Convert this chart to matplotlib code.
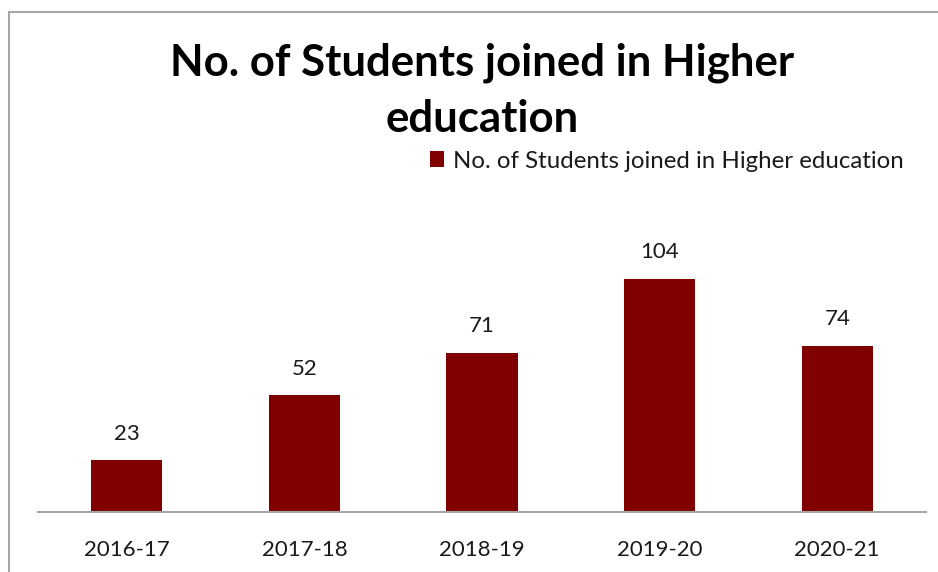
import matplotlib
matplotlib.use("Agg")
import matplotlib.pyplot as plt
from matplotlib.patches import Rectangle

categories = ["2016-17", "2017-18", "2018-19", "2019-20", "2020-21"]
values = [23, 52, 71, 104, 74]
series_name = "No. of Students joined in Higher education"
title = "No. of Students joined in Higher\neducation"

plt.rcParams['font.family'] = ['Lato', 'DejaVu Sans']

W, H = 938, 572
fig = plt.figure(figsize=(W / 100, H / 100), dpi=100)

# outer chart border
fig.patches.append(Rectangle((9 / W, -0.1), 1.2, 1.1 - 12 / H, transform=fig.transFigure,
                             fill=False, edgecolor="#a6a6a6", linewidth=1.5))

ax = fig.add_axes([38 / W, 60 / H, 888 / W, 314 / H])
x = range(len(categories))
bars = ax.bar(x, values, width=0.4, color="#800000", label=series_name)
ax.set_xlim(-0.5, len(categories) - 0.5)
ax.set_ylim(0, 140)
for s in ["top", "right", "left"]:
    ax.spines[s].set_visible(False)
ax.spines["bottom"].set_color("#a6a6a6")
ax.spines["bottom"].set_linewidth(1.5)
ax.set_yticks([])
ax.set_xticks(list(x))
ax.set_xticklabels(categories, fontsize=16, color="#1a1a1a")
ax.tick_params(axis="x", length=0, pad=20)

for xi, v in zip(x, values):
    ax.annotate(str(v), (xi, v), xytext=(0, 12), textcoords="offset points",
                ha="center", va="bottom", fontsize=16, color="#1a1a1a")

fig.text(482 / W, 1 - 91 / H, title, ha="center", va="center", fontsize=31.5,
         fontweight="bold", color="black", linespacing=1.5)

leg = fig.legend(handles=[bars], labels=[series_name], loc="center left",
                 bbox_to_anchor=(430 / W, 1 - 161 / H), frameon=False, fontsize=17.3,
                 handlelength=0.6, handleheight=0.6, handletextpad=0.35, borderpad=0,
                 borderaxespad=0)
for t in leg.get_texts():
    t.set_color("#1a1a1a")

fig.savefig("out.png", dpi=100)
